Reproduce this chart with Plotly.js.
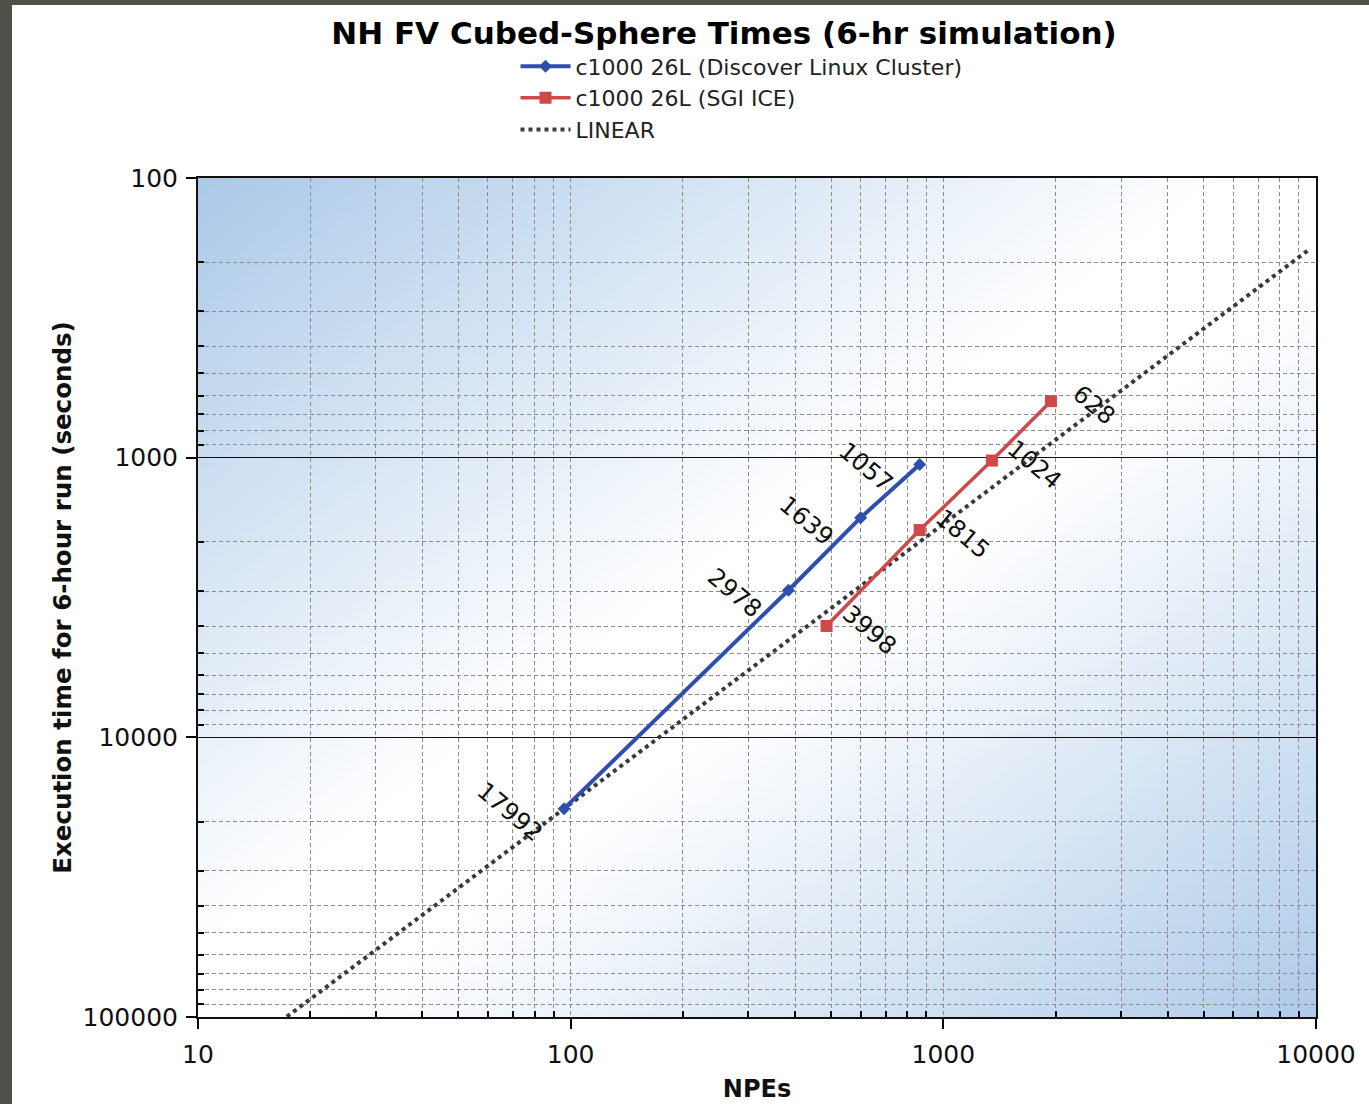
<!DOCTYPE html>
<html>
<head>
<meta charset="utf-8">
<script src="https://cdn.plot.ly/plotly-3.0.1.min.js"></script>
<style>
  html, body { margin: 0; padding: 0; background: #4f5048; width: 1369px; height: 1104px; overflow: hidden; }
  #chart { position: absolute; left: 12px; top: 5px; width: 1357px; height: 1099px; background: #ffffff; }
</style>
</head>
<body>
<div id="chart"></div>
<script>
// ---- data ----
const discoverNPEs = [96, 384, 600, 864];
const discoverTimes = [17992, 2978, 1639, 1057];
const sgiNPEs = [486, 864, 1350, 1944];
const sgiTimes = [3998, 1815, 1024, 628];
const linearNPEs = [16, 9600];
const linearTimes = [107952, 179.9];

const seriesNames = [
  'c1000 26L (Discover Linux Cluster)',
  'c1000 26L (SGI ICE)',
  'LINEAR'
];
const xTickVals = [10, 100, 1000, 10000];
const xTickText = ['10', '100', '1000', '10000'];
const yTickVals = [100, 1000, 10000, 100000];
const yTickText = ['100', '1000', '10000', '100000'];

const titleText = 'NH FV Cubed-Sphere Times (6-hr simulation)';
const xTitle = 'NPEs';
const yTitle = 'Execution time for 6-hour run (seconds)';

const BLUE = '#2f4fb0';
const RED = '#d0484a';
const FONT = 'DejaVu Sans, Verdana, sans-serif';

const traces = [
  {
    x: linearNPEs, y: linearTimes, name: seriesNames[2], mode: 'lines',
    line: { color: '#3a3a3a', width: 4, dash: 'dot' }, legendgroup: 'c', legendrank: 3
  },
  {
    x: discoverNPEs, y: discoverTimes, name: seriesNames[0], mode: 'lines+markers',
    line: { color: BLUE, width: 4 }, marker: { symbol: 'diamond', size: 10, color: BLUE },
    legendgroup: 'a', legendrank: 1
  },
  {
    x: sgiNPEs, y: sgiTimes, name: seriesNames[1], mode: 'lines+markers',
    line: { color: RED, width: 3.5 }, marker: { symbol: 'square', size: 12, color: RED },
    legendgroup: 'b', legendrank: 2
  }
];

const annotations = [];
discoverNPEs.forEach((n, i) => {
  annotations.push({
    x: Math.log10(n), y: Math.log10(discoverTimes[i]), xref: 'x', yref: 'y',
    text: String(discoverTimes[i]), showarrow: false, textangle: 40,
    xshift: -54, yshift: -3, font: { family: FONT, size: 24, color: '#111' }
  });
});
sgiNPEs.forEach((n, i) => {
  annotations.push({
    x: Math.log10(n), y: Math.log10(sgiTimes[i]), xref: 'x', yref: 'y',
    text: String(sgiTimes[i]), showarrow: false, textangle: 40,
    xshift: 43, yshift: -4, font: { family: FONT, size: 24, color: '#111' }
  });
});

const gradSvg = '<svg xmlns="http://www.w3.org/2000/svg" width="400" height="300" viewBox="0 0 400 300" preserveAspectRatio="none">' +
  '<defs><linearGradient id="g" x1="0" y1="0" x2="1" y2="1">' +
  '<stop offset="0" stop-color="#abc9e8"/>' +
  '<stop offset="0.46" stop-color="#ffffff"/>' +
  '<stop offset="0.56" stop-color="#ffffff"/>' +
  '<stop offset="1" stop-color="#afcbe9"/>' +
  '</linearGradient></defs><rect width="400" height="300" fill="url(#g)"/></svg>';
const gradUri = 'data:image/svg+xml;base64,' + btoa(gradSvg);

const minorCfg = {
  ticks: 'inside', ticklen: 6, tickwidth: 2, tickcolor: '#000',
  showgrid: true, gridcolor: '#8a8a8a', gridwidth: 1, griddash: '4px,3px'
};

const layout = {
  width: 1357, height: 1099,
  margin: { l: 186, r: 53, t: 173, b: 87 },
  paper_bgcolor: '#ffffff',
  plot_bgcolor: '#ffffff',
  font: { family: FONT, color: '#000' },
  title: {
    text: '<b>' + titleText + '</b>',
    font: { family: FONT, size: 31, color: '#000' },
    xref: 'container', x: 0.5247, xanchor: 'center',
    yref: 'container', y: 1 - 28 / 1099, yanchor: 'middle'
  },
  showlegend: true,
  legend: {
    x: 0.284, y: 1.158, xanchor: 'left', yanchor: 'top',
    bgcolor: 'rgba(0,0,0,0)', borderwidth: 0,
    font: { family: FONT, size: 22, color: '#222' },
    itemwidth: 50, tracegroupgap: 0, traceorder: 'grouped'
  },
  xaxis: {
    type: 'log', range: [1, 4],
    tickvals: xTickVals, ticktext: xTickText,
    ticks: 'outside', ticklen: 10, tickwidth: 2, tickcolor: '#000',
    ticklabelstandoff: 4,
    tickfont: { family: FONT, size: 25, color: '#111' },
    showline: true, linecolor: '#111', linewidth: 2, mirror: true,
    showgrid: true, gridcolor: '#8a8a8a', gridwidth: 1, griddash: '4px,3px',
    zeroline: false,
    minor: Object.assign({ tickvals: [20,30,40,50,60,70,80,90,200,300,400,500,600,700,800,900,2000,3000,4000,5000,6000,7000,8000,9000] }, minorCfg),
    title: { text: '<b>' + xTitle + '</b>', font: { family: FONT, size: 24, color: '#111' }, standoff: 12 }
  },
  yaxis: {
    type: 'log', range: [5, 2],
    tickvals: yTickVals, ticktext: yTickText,
    ticks: 'outside', ticklen: 10, tickwidth: 2, tickcolor: '#000',
    ticklabelstandoff: 3,
    tickfont: { family: FONT, size: 25, color: '#111' },
    showline: true, linecolor: '#111', linewidth: 2, mirror: true,
    showgrid: true, gridcolor: '#111', gridwidth: 1.5,
    zeroline: false,
    minor: Object.assign({ tickvals: [200,300,400,500,600,700,800,900,2000,3000,4000,5000,6000,7000,8000,9000,20000,30000,40000,50000,60000,70000,80000,90000] }, minorCfg),
    title: { text: '<b>' + yTitle + '</b>', font: { family: FONT, size: 24.5, color: '#111' }, standoff: 4 }
  },
  images: [{
    source: gradUri, xref: 'paper', yref: 'paper', x: 0, y: 1,
    sizex: 1, sizey: 1, sizing: 'stretch', xanchor: 'left', yanchor: 'top', layer: 'below'
  }],
  annotations: annotations
};

Plotly.newPlot('chart', traces, layout, { displayModeBar: false, staticPlot: true });
</script>
</body>
</html>
